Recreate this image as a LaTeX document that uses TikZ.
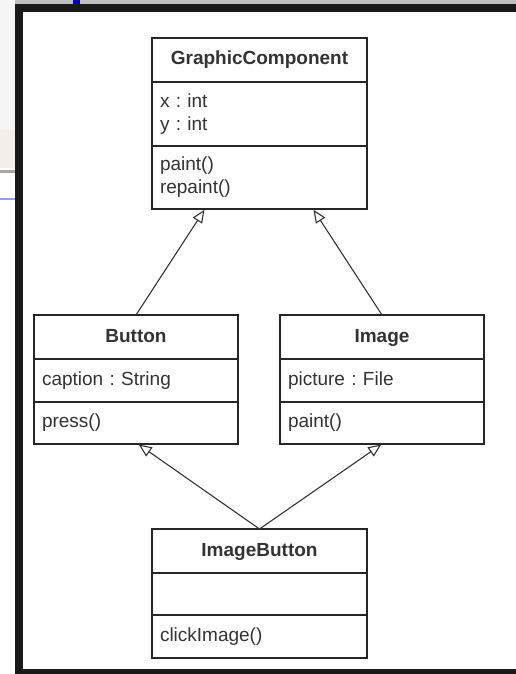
\documentclass[tikz,border=0pt]{standalone}
\usepackage{fontspec}
\setmainfont{Liberation Sans}
\frenchspacing
\usetikzlibrary{positioning,arrows.meta}

\begin{document}
\begin{tikzpicture}[x=1pt,y=-1pt,
        box/.style={draw=black!85, line width=1.8pt, outer sep=0pt, inner sep=0pt, text=black!80},
        title/.style={box, font=\fontsize{19}{23}\selectfont\bfseries, minimum height=44pt,
                      align=center, text height=14pt, text depth=4pt},
        member/.style={box, font=\fontsize{19}{23}\selectfont, align=left, inner xsep=8pt},
        wide/.style={minimum width=215pt, text width=199pt},
        narrow/.style={minimum width=204pt, text width=188pt},
        inherit/.style={draw=black!80, line width=1.1pt, shorten >=0.9pt,
                        -{Triangle[open,length=13pt,width=11pt]}}]
        % screen around the diagram
        \useasboundingbox (0,0) rectangle (516,674);
        \fill[white]         (0,0)   rectangle (516,674);
        \fill[black!4]       (0,0)   rectangle (15,130);
        \fill[black!8!brown!12] (0,130) rectangle (15,168);
        \fill[black!35]      (0,170) rectangle (15,173);
        \fill[blue!40]       (0,198) rectangle (15,200);
        \fill[black!25]      (15,0)  rectangle (516,4);
        \fill[blue!70!black] (73,0)  rectangle (80,4);
        \fill[black!90]      (15,4)  rectangle (516,12);
        \fill[black!90]      (15,4)  rectangle (23,674);
        \fill[black!90]      (15,669) rectangle (516,674);

        % classes
        \node[title, wide] (gc) at (259.5, 60) {GraphicComponent};
        \node[member, wide, minimum height=64pt, below=0pt of gc] (gc-attr) {x : int\\y : int};
        \node[member, wide, minimum height=63pt, below=0pt of gc-attr] (gc-ops) {paint()\\repaint()};

        \node[title, narrow] (btn) at (136, 337) {Button};
        \node[member, narrow, minimum height=43pt, below=0pt of btn] (btn-attr) {caption : String};
        \node[member, narrow, minimum height=42pt, below=0pt of btn-attr] (btn-ops) {press()};

        \node[title, narrow] (img) at (382, 337) {Image};
        \node[member, narrow, minimum height=43pt, below=0pt of img] (img-attr) {picture : File};
        \node[member, narrow, minimum height=42pt, below=0pt of img-attr] (img-ops) {paint()};

        \node[title, wide] (ib) at (259.5, 551) {ImageButton};
        \node[member, wide, minimum height=42pt, below=0pt of ib] (ib-attr) {};
        \node[member, wide, minimum height=43pt, below=0pt of ib-attr] (ib-ops) {clickImage()};

        % generalisations
        \coordinate (gc-l) at ([xshift=53pt]gc-ops.south west);
        \coordinate (gc-r) at ([xshift=-54pt]gc-ops.south east);
        \draw[inherit] (btn.north) -- (gc-l);
        \draw[inherit] (img.north) -- (gc-r);
        \draw[inherit] (ib.north) -- ([xshift=2pt]btn-ops.south);
        \draw[inherit] (ib.north) -- (img-ops.south);
\end{tikzpicture}
\end{document}
